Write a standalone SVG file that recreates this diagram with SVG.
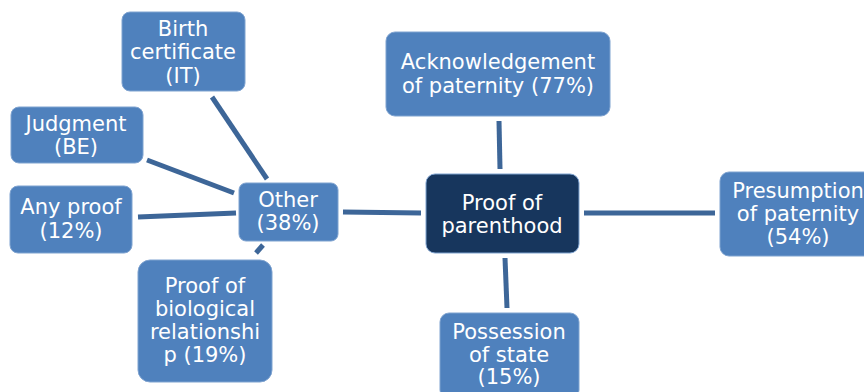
<svg xmlns="http://www.w3.org/2000/svg" width="864" height="392" viewBox="0 0 864 392">
<style>
.n rect{fill:#4f81bd;stroke:#7fa3d0;stroke-width:1}
.c rect{fill:#17365d;stroke:#7fa3d0;stroke-width:1}
text{font-family:"DejaVu Sans","Verdana",sans-serif;font-size:21px;fill:#ffffff;text-anchor:middle}
#connectors line{stroke:#3d6698;stroke-width:5;stroke-linecap:butt}
</style>
<rect width="864" height="392" fill="#ffffff"/>
<g id="connectors">
<line x1="499" y1="121" x2="500" y2="169"/>
<line x1="584" y1="213" x2="715" y2="213"/>
<line x1="505" y1="258" x2="507" y2="308"/>
<line x1="343" y1="212" x2="421" y2="213"/>
<line x1="212" y1="97" x2="267" y2="179"/>
<line x1="147" y1="160" x2="234" y2="193"/>
<line x1="138" y1="217" x2="236" y2="213"/>
<line x1="263" y1="245" x2="256" y2="253"/>
</g>
<g id="birth" class="n"><rect x="122" y="12" width="123" height="79" rx="8"/>
<text x="183" y="36">Birth</text><text x="183" y="59">certificate</text><text x="183" y="83">(IT)</text></g>
<g id="judgment" class="n"><rect x="11" y="107" width="132" height="56" rx="8"/>
<text x="76" y="131">Judgment</text><text x="76" y="154">(BE)</text></g>
<g id="anyproof" class="n"><rect x="10" y="186" width="122" height="67" rx="8"/>
<text x="71" y="214">Any proof</text><text x="71" y="238">(12%)</text></g>
<g id="other" class="n"><rect x="239" y="183" width="99" height="58" rx="7"/>
<text x="288" y="207">Other</text><text x="288" y="230">(38%)</text></g>
<g id="biological" class="n"><rect x="138" y="260" width="134" height="122" rx="12"/>
<text x="205" y="293">Proof of</text><text x="205" y="316">biological</text><text x="205" y="339">relationshi</text><text x="205" y="362">p (19%)</text></g>
<g id="acknowledgement" class="n"><rect x="386" y="32" width="224" height="84" rx="9"/>
<text x="498" y="69">Acknowledgement</text><text x="498" y="93">of paternity (77%)</text></g>
<g id="parenthood" class="c"><rect x="426" y="174" width="153" height="79" rx="9"/>
<text x="502" y="210">Proof of</text><text x="502" y="233">parenthood</text></g>
<g id="presumption" class="n"><rect x="720" y="172" width="156" height="84" rx="9"/>
<text x="798" y="198">Presumption</text><text x="798" y="221">of paternity</text><text x="798" y="244">(54%)</text></g>
<g id="possession" class="n"><rect x="440" y="313" width="139" height="86" rx="9"/>
<text x="509" y="339">Possession</text><text x="509" y="362">of state</text><text x="509" y="384">(15%)</text></g>
</svg>
